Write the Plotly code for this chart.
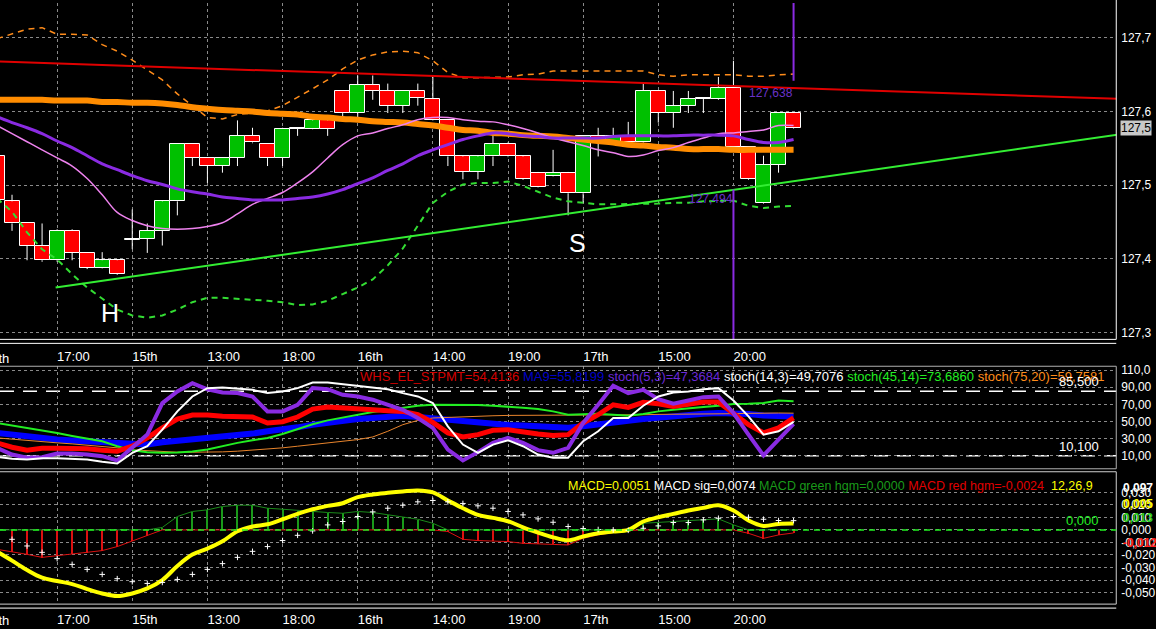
import plotly.graph_objects as go

# --- price candles (one per bar, bar index 0..53) ---
opens = [127.539, 127.478, 127.448, 127.418, 127.398, 127.438, 127.408, 127.388, 127.398, 127.426,
         127.427, 127.438, 127.478, 127.556, 127.537, 127.526, 127.537, 127.567, 127.556, 127.537,
         127.577, 127.577, 127.588, 127.628, 127.598, 127.636, 127.628, 127.608, 127.628, 127.617,
         127.589, 127.539, 127.518, 127.539, 127.556, 127.539, 127.517, 127.513, 127.517, 127.489,
         127.567, 127.558, 127.567, 127.558, 127.628, 127.598, 127.608, 127.617, 127.617, 127.632,
         127.552, 127.476, 127.528, 127.598]
highs = [127.542, 127.487, 127.448, 127.448, 127.440, 127.440, 127.409, 127.409, 127.399, 127.467,
         127.448, 127.479, 127.557, 127.557, 127.538, 127.538, 127.588, 127.578, 127.557, 127.578,
         127.578, 127.589, 127.589, 127.629, 127.649, 127.649, 127.638, 127.629, 127.638, 127.647,
         127.590, 127.540, 127.540, 127.567, 127.558, 127.540, 127.518, 127.548, 127.518, 127.568,
         127.578, 127.578, 127.586, 127.638, 127.629, 127.628, 127.628, 127.619, 127.647, 127.669,
         127.553, 127.540, 127.599, 127.599]
lows = [127.463, 127.438, 127.398, 127.396, 127.396, 127.398, 127.386, 127.387, 127.378, 127.413,
        127.408, 127.418, 127.459, 127.526, 127.503, 127.517, 127.526, 127.557, 127.526, 127.526,
        127.567, 127.576, 127.567, 127.589, 127.589, 127.616, 127.598, 127.598, 127.608, 127.588,
        127.526, 127.508, 127.508, 127.526, 127.538, 127.507, 127.497, 127.512, 127.459, 127.476,
        127.539, 127.557, 127.557, 127.557, 127.585, 127.578, 127.598, 127.598, 127.616, 127.551,
        127.507, 127.475, 127.517, 127.577]
closes = [127.480, 127.448, 127.418, 127.398, 127.438, 127.408, 127.388, 127.398, 127.379, 127.427,
          127.438, 127.478, 127.556, 127.537, 127.526, 127.537, 127.567, 127.558, 127.537, 127.577,
          127.577, 127.588, 127.577, 127.598, 127.636, 127.628, 127.608, 127.628, 127.619, 127.589,
          127.539, 127.518, 127.539, 127.556, 127.539, 127.508, 127.498, 127.517, 127.489, 127.567,
          127.562, 127.567, 127.558, 127.628, 127.598, 127.608, 127.617, 127.618, 127.632, 127.552,
          127.508, 127.528, 127.598, 127.578]

# --- overlays on the price panel ---
ma_orange = [127.616, 127.616, 127.616, 127.616, 127.615, 127.615, 127.615, 127.613, 127.613, 127.612,
             127.612, 127.611, 127.609, 127.606, 127.604, 127.602, 127.601, 127.600, 127.598, 127.597,
             127.596, 127.593, 127.592, 127.590, 127.589, 127.587, 127.586, 127.585, 127.583, 127.581,
             127.578, 127.575, 127.574, 127.571, 127.570, 127.568, 127.567, 127.566, 127.564, 127.562,
             127.560, 127.558, 127.555, 127.554, 127.552, 127.551, 127.549, 127.549, 127.549, 127.548,
             127.548, 127.548, 127.548, 127.548]
ma_purple = [127.593, 127.585, 127.578, 127.570, 127.560, 127.551, 127.540, 127.529, 127.521, 127.513,
             127.506, 127.501, 127.495, 127.491, 127.488, 127.484, 127.482, 127.480, 127.480, 127.480,
             127.482, 127.484, 127.488, 127.494, 127.502, 127.510, 127.520, 127.529, 127.540, 127.548,
             127.555, 127.562, 127.567, 127.571, 127.570, 127.567, 127.566, 127.564, 127.564, 127.564,
             127.564, 127.566, 127.567, 127.567, 127.567, 127.567, 127.568, 127.568, 127.568, 127.567,
             127.562, 127.558, 127.558, 127.562]
ma_pink = [127.581, 127.570, 127.559, 127.548, 127.537, 127.526, 127.509, 127.487, 127.463, 127.452,
           127.445, 127.441, 127.440, 127.441, 127.444, 127.449, 127.461, 127.474, 127.482, 127.490,
           127.503, 127.518, 127.537, 127.555, 127.567, 127.571, 127.577, 127.582, 127.589, 127.592,
           127.592, 127.589, 127.587, 127.586, 127.582, 127.577, 127.571, 127.564, 127.559, 127.554,
           127.548, 127.544, 127.539, 127.541, 127.547, 127.551, 127.558, 127.564, 127.570, 127.571,
           127.573, 127.575, 127.581, 127.581]
band_up = [127.699, 127.705, 127.712, 127.714, 127.705, 127.705, 127.704, 127.691, 127.682, 127.670,
           127.657, 127.643, 127.624, 127.608, 127.592, 127.590, 127.596, 127.598, 127.601, 127.608,
           127.619, 127.631, 127.643, 127.658, 127.670, 127.677, 127.681, 127.682, 127.680, 127.669,
           127.653, 127.646, 127.646, 127.646, 127.647, 127.650, 127.651, 127.655, 127.655, 127.655,
           127.655, 127.655, 127.655, 127.655, 127.650, 127.648, 127.650, 127.650, 127.650, 127.650,
           127.648, 127.648, 127.650, 127.651]
band_dn = [127.482, 127.464, 127.436, 127.413, 127.399, 127.379, 127.361, 127.346, 127.331, 127.323,
           127.320, 127.323, 127.331, 127.341, 127.347, 127.347, 127.346, 127.344, 127.343, 127.341,
           127.337, 127.338, 127.343, 127.352, 127.361, 127.372, 127.391, 127.414, 127.445, 127.476,
           127.491, 127.501, 127.503, 127.503, 127.505, 127.499, 127.491, 127.483, 127.478, 127.476,
           127.474, 127.474, 127.474, 127.474, 127.475, 127.476, 127.476, 127.478, 127.478, 127.479,
           127.472, 127.469, 127.471, 127.472]

# trendlines (bar index, price)
res_x = [0, 75]
res_y = [127.668, 127.617]
sup_x = [3.9, 75]
sup_y = [127.361, 127.570]

# high / low marks
mark_x = [53, 49]
mark_y = [127.638, 127.494]
mark_txt = ["127,638", "127,494"]

# --- oscillators ---
stpmt = [25.2, 20.1, 16.7, 19.0, 19.0, 19.0, 18.2, 16.7, 15.5, 21.3,
         31.0, 42.6, 53.0, 57.6, 57.6, 56.1, 56.1, 55.3, 48.4, 49.9,
         55.3, 64.6, 66.9, 66.2, 65.0, 63.8, 62.6, 61.9, 58.0, 49.1,
         36.8, 32.1, 34.8, 39.9, 40.6, 37.5, 35.6, 33.7, 34.8, 48.4,
         58.0, 69.6, 66.5, 72.4, 70.8, 67.7, 70.8, 72.8, 72.8, 60.0,
         46.4, 36.8, 42.6, 54.4]
ma9 = [36.8, 34.8, 32.1, 30.6, 29.0, 27.9, 26.7, 25.2, 24.0, 23.2,
       23.2, 25.9, 27.5, 29.0, 30.6, 32.1, 34.4, 36.0, 38.7, 40.6,
       43.3, 46.4, 49.1, 51.0, 53.0, 54.1, 55.3, 56.8, 55.3, 53.8,
       51.4, 49.5, 48.4, 47.2, 46.0, 45.3, 44.5, 43.3, 42.9, 44.5,
       47.2, 49.1, 51.0, 53.0, 54.9, 56.1, 57.6, 59.2, 60.0, 60.0,
       58.8, 57.2, 56.1, 55.8]
stoch5 = [19.3, 11.6, 7.8, 8.5, 12.8, 12.8, 11.6, 9.7, 4.7, 19.3,
          34.8, 71.6, 85.1, 94.7, 87.7, 83.9, 83.2, 79.3, 61.9, 61.9,
          69.6, 89.0, 87.8, 81.2, 79.3, 75.5, 69.6, 63.8, 54.2, 42.6,
          17.4, 4.7, 14.4, 25.2, 31.0, 25.2, 16.7, 13.6, 19.4, 48.4,
          69.6, 91.7, 83.2, 87.0, 76.2, 70.8, 74.6, 78.5, 79.3, 60.0,
          34.8, 10.5, 29.0, 47.4]
stoch14 = [8.9, 6.6, 5.8, 7.4, 7.4, 6.6, 5.8, 3.1, 1.2, 13.6,
           21.3, 40.6, 61.9, 79.3, 89.0, 89.8, 88.6, 87.0, 83.2, 85.1,
           89.0, 95.6, 95.6, 93.6, 91.7, 90.1, 87.8, 83.2, 79.3, 71.6,
           44.5, 23.2, 13.6, 23.2, 28.2, 21.3, 11.6, 7.8, 7.8, 27.1,
           38.7, 54.2, 54.2, 68.5, 79.3, 84.0, 85.1, 87.8, 89.0, 74.6,
           56.1, 34.8, 38.7, 49.7]
stoch45 = [48.4, 45.7, 42.6, 39.5, 36.8, 33.3, 30.6, 27.1, 21.3, 16.7,
           14.4, 13.6, 14.0, 15.1, 17.4, 21.3, 25.2, 28.2, 30.9, 35.6,
           41.4, 46.8, 51.4, 54.9, 58.0, 61.1, 63.4, 65.7, 68.4, 69.6,
           69.6, 69.6, 69.2, 68.4, 67.7, 66.2, 64.6, 61.9, 58.0, 58.8,
           59.2, 58.0, 56.8, 58.8, 61.9, 63.8, 65.7, 66.9, 68.4, 70.4,
           70.8, 71.6, 74.6, 73.7]
stoch75 = [31.0, 29.4, 27.9, 26.7, 25.2, 24.0, 22.5, 21.3, 19.4, 17.0,
           15.9, 14.7, 14.3, 14.3, 14.3, 14.7, 15.5, 16.7, 18.2, 19.4,
           21.3, 23.2, 25.2, 26.7, 29.0, 32.1, 38.7, 46.4, 51.4, 54.2,
           55.0, 55.3, 56.1, 56.8, 57.2, 57.2, 57.2, 57.6, 57.6, 57.6,
           58.0, 58.0, 58.0, 58.0, 58.4, 58.4, 58.4, 58.8, 58.8, 59.2,
           59.6, 60.0, 60.0, 59.8]
osc_levels = [85.5, 10.1]
osc_level_txt = ["85,500", "10,100"]

# --- MACD ---
macd = [-0.0173, -0.0245, -0.0320, -0.0381, -0.0408, -0.0432, -0.0472, -0.0507, -0.0528, -0.0507,
        -0.0467, -0.0400, -0.0288, -0.0197, -0.0149, -0.0091, -0.0011, 0.0027, 0.0045, 0.0085,
        0.0128, 0.0165, 0.0192, 0.0213, 0.0261, 0.0283, 0.0296, 0.0307, 0.0315, 0.0299,
        0.0235, 0.0173, 0.0120, 0.0096, 0.0069, 0.0021, -0.0021, -0.0059, -0.0083, -0.0053,
        -0.0027, -0.0013, 0.0000, 0.0067, 0.0101, 0.0128, 0.0155, 0.0176, 0.0197, 0.0155,
        0.0075, 0.0032, 0.0048, 0.0051]
signal = [-0.0027, -0.0075, -0.0128, -0.0179, -0.0229, -0.0275, -0.0315, -0.0355, -0.0389, -0.0413,
          -0.0427, -0.0419, -0.0395, -0.0355, -0.0315, -0.0269, -0.0219, -0.0171, -0.0133, -0.0085,
          -0.0043, -0.0008, 0.0040, 0.0067, 0.0107, 0.0144, 0.0173, 0.0197, 0.0224, 0.0235,
          0.0224, 0.0211, 0.0192, 0.0173, 0.0147, 0.0120, 0.0088, 0.0061, 0.0027, 0.0011,
          0.0003, 0.0000, -0.0003, 0.0013, 0.0032, 0.0059, 0.0059, 0.0080, 0.0093, 0.0107,
          0.0101, 0.0085, 0.0075, 0.0074]
hist = [-0.0155, -0.0173, -0.0195, -0.0219, -0.0205, -0.0192, -0.0179, -0.0165, -0.0133, -0.0088,
        -0.0043, 0.0020, 0.0107, 0.0147, 0.0160, 0.0187, 0.0197, 0.0197, 0.0173, 0.0165,
        0.0155, 0.0147, 0.0139, 0.0133, 0.0147, 0.0139, 0.0120, 0.0107, 0.0085, 0.0053,
        -0.0013, -0.0075, -0.0085, -0.0088, -0.0093, -0.0107, -0.0112, -0.0112, -0.0120, -0.0067,
        -0.0040, -0.0021, -0.0005, 0.0053, 0.0059, 0.0067, 0.0072, 0.0080, 0.0088, 0.0040,
        -0.0027, -0.0067, -0.0040, -0.0024]

# time axis
tick_pos = [4, 9, 14, 19, 24, 29, 34, 39, 44, 49]
tick_txt = ["17:00", "15th", "13:00", "18:00", "16th", "14:00", "19:00", "17th", "15:00", "20:00"]

price_ticks = [127.3, 127.4, 127.5, 127.6, 127.7]
price_txt = ["127,3", "127,4", "127,5", "127,6", "127,7"]
osc_ticks = [10, 30, 50, 70, 90, 110]
osc_txt = ["10,00", "30,00", "50,00", "70,00", "90,00", "110,0"]
macd_ticks = [0.03, 0.02, 0.01, 0.0, -0.01, -0.02, -0.03, -0.04, -0.05]
macd_txt = ["0,030", "0,020", "0,010", "0,000", "-0,010", "-0,020", "-0,030", "-0,040", "-0,050"]

FONT = "Liberation Sans, Arial, sans-serif"
XR = 0.9715  # right edge of plotting area (paper)

idx = list(range(len(closes)))
up = [i for i in idx if closes[i] >= opens[i]]
dn = [i for i in idx if closes[i] < opens[i]]

fig = go.Figure()

# candle wicks (outside the bodies)
wx, wy = [], []
for i in idx:
    top = max(opens[i], closes[i])
    bot = min(opens[i], closes[i])
    wx += [i, i, None, i, i, None]
    wy += [highs[i], top, None, bot, lows[i], None]
fig.add_trace(go.Scatter(x=wx, y=wy, mode="lines", line=dict(color="white", width=1)))

for sel, col in [(up, "#00c000"), (dn, "#ff0000")]:
    fig.add_trace(go.Bar(
        x=sel,
        base=[min(opens[i], closes[i]) for i in sel],
        y=[max(abs(closes[i] - opens[i]), 0.0004) for i in sel],
        width=1.0,
        marker=dict(color=col, line=dict(color="white", width=1)),
    ))

fig.add_trace(go.Scatter(x=idx, y=band_up, mode="lines", line=dict(color="#ff8c1a", width=1.5, dash="6px,5px")))
fig.add_trace(go.Scatter(x=idx, y=band_dn, mode="lines", line=dict(color="#33dd33", width=2, dash="6px,5px")))
fig.add_trace(go.Scatter(x=res_x, y=res_y, mode="lines", line=dict(color="#e00000", width=2)))
fig.add_trace(go.Scatter(x=sup_x, y=sup_y, mode="lines", line=dict(color="#33ee33", width=2)))
fig.add_trace(go.Scatter(x=idx, y=ma_orange, mode="lines", line=dict(color="#ff8c00", width=6, shape="spline")))
fig.add_trace(go.Scatter(x=idx, y=ma_pink, mode="lines", line=dict(color="#ee82ee", width=1.5, shape="spline")))
fig.add_trace(go.Scatter(x=idx, y=ma_purple, mode="lines", line=dict(color="#8a2be2", width=3, shape="spline")))

# vertical high / low marker lines
fig.add_trace(go.Scatter(x=[mark_x[0], mark_x[0]], y=[mark_y[0] + 0.004, 127.8], mode="lines",
                         line=dict(color="#8a2be2", width=2)))
fig.add_trace(go.Scatter(x=[mark_x[1], mark_x[1]], y=[mark_y[1], 127.2], mode="lines",
                         line=dict(color="#8a2be2", width=2)))

# oscillator panel
for ser, col, w in [(ma9, "#0000ff", 6), (stoch75, "#e8842c", 1), (stoch45, "#22ee22", 2),
                    (stpmt, "#ff0000", 5), (stoch5, "#8a2be2", 4), (stoch14, "white", 2)]:
    fig.add_trace(go.Scatter(x=idx, y=ser, mode="lines", xaxis="x2", yaxis="y2",
                             line=dict(color=col, width=w)))

# MACD panel
green_h = [h if h > 0 else 0 for h in hist]
red_h = [h if h < 0 else 0 for h in hist]
fig.add_trace(go.Bar(x=idx, y=green_h, width=0.07, xaxis="x3", yaxis="y3",
                     marker=dict(color="#1a9a1a", line=dict(width=0))))
fig.add_trace(go.Bar(x=idx, y=red_h, width=0.07, xaxis="x3", yaxis="y3",
                     marker=dict(color="#dd1111", line=dict(width=0))))
fig.add_trace(go.Scatter(x=idx, y=green_h, mode="lines", xaxis="x3", yaxis="y3",
                         line=dict(color="#1a8a1a", width=1)))
fig.add_trace(go.Scatter(x=idx, y=red_h, mode="lines", xaxis="x3", yaxis="y3",
                         line=dict(color="#dd1111", width=1)))
fig.add_trace(go.Scatter(x=idx, y=macd, mode="lines", xaxis="x3", yaxis="y3",
                         line=dict(color="#ffff00", width=4, shape="spline")))
fig.add_trace(go.Scatter(x=idx, y=signal, mode="markers", xaxis="x3", yaxis="y3",
                         marker=dict(symbol="cross-thin", size=4, line=dict(color="white", width=1))))

grid = dict(showgrid=True, gridcolor="#8a8a8a", griddash="dot", gridwidth=1, zeroline=False)
xcommon = dict(domain=[0, XR], range=[0.2, 74.47], tickvals=tick_pos, ticktext=tick_txt,
               ticks="", tickfont=dict(color="white", size=13, family=FONT),
               ticklabelposition="outside right", **grid)
ycommon = dict(side="right", ticks="", tickfont=dict(color="white", size=12, family=FONT), **grid)

ann = []
# partly hidden first date label
for yy in [1 - 357 / 629, 1 - 620 / 629]:
    ann.append(dict(xref="paper", yref="paper", x=-0.0156, y=yy, text="14th", showarrow=False,
                    xanchor="left", yanchor="middle", font=dict(color="white", size=13, family=FONT)))
ann.append(dict(xref="x", yref="y", x=7.5, y=127.327, text="H", showarrow=False,
                font=dict(color="white", size=25, family=FONT)))
ann.append(dict(xref="x", yref="y", x=38.6, y=127.422, text="S", showarrow=False,
                font=dict(color="white", size=25, family=FONT)))
for mx, my, mt in zip(mark_x, mark_y, mark_txt):
    ann.append(dict(xref="x", yref="y", x=mx + 0.1, y=my, text=mt, showarrow=False,
                    xanchor="right", yanchor="top", font=dict(color="#6a32c8", size=12, family=FONT)))
ann.append(dict(xref="paper", yref="y", x=XR + 0.003, y=closes[-1], text="127,5", showarrow=False,
                xanchor="left", yanchor="middle", bgcolor="#c8c8c8", borderpad=0,
                font=dict(color="black", size=12, family=FONT)))

osc_legend = ("<span style='color:#d40000'>WHS_EL_STPMT=54,4136</span> "
              "<span style='color:#0000c8'>MA9=55,8199</span> "
              "<span style='color:#6a28d8'>stoch(5,3)=47,3684</span> "
              "<span style='color:#ffffff'>stoch(14,3)=49,7076</span> "
              "<span style='color:#22ee22'>stoch(45,14)=73,6860</span> "
              "<span style='color:#ff8c1a'>stoch(75,20)=59,7581</span>")
ann.append(dict(xref="paper", yref="paper", x=1114 / 1156, y=1 - 375 / 629, text=osc_legend,
                showarrow=False, xanchor="right", yanchor="middle", font=dict(size=13, family=FONT)))
for lv, lt in zip(osc_levels, osc_level_txt):
    ann.append(dict(xref="paper", yref="y2", x=1108 / 1156, y=lv, text=lt, showarrow=False,
                    xanchor="right", yanchor="bottom", font=dict(color="white", size=13, family=FONT)))

macd_legend = ("<span style='color:#ffff00'>MACD=0,0051</span> "
               "<span style='color:#ffffff'>MACD sig=0,0074</span> "
               "<span style='color:#1a9a1a'>MACD green hgm=0,0000</span> "
               "<span style='color:#e00000'>MACD red hgm=-0,0024</span>  "
               "<span style='color:#ffff00'>12,26,9</span>")
ann.append(dict(xref="paper", yref="paper", x=1102 / 1156, y=1 - 485 / 629, text=macd_legend,
                showarrow=False, xanchor="right", yanchor="middle", font=dict(size=12.5, family=FONT)))
ann.append(dict(xref="paper", yref="y3", x=1108 / 1156, y=0, text="0,000", showarrow=False,
                xanchor="right", yanchor="bottom", font=dict(color="#22ee22", size=13, family=FONT)))
# overlapping value labels on the MACD scale
for txt, yv, col in [("0,097", 0.0335, "white"), ("0,005", 0.0205, "#ffff00"),
                     ("0,013", 0.0098, "#22cc22"), ("-0,012", -0.0101, "#ff2020")]:
    ann.append(dict(xref="paper", yref="y3", x=XR + 0.004, y=yv, text="<b>" + txt + "</b>",
                    showarrow=False, xanchor="left", yanchor="middle",
                    font=dict(color=col, size=12, family=FONT)))

shapes = []
for y0, y1, col in [(1 - 338 / 629, 1.01, "white"), (1 - 468 / 629, 1 - 365 / 629, "#b0b0b0"),
                    (1 - 604 / 629, 1 - 471 / 629, "#d0d0d0")]:
    shapes.append(dict(type="rect", xref="paper", yref="paper", x0=-0.01, x1=XR, y0=y0, y1=y1,
                       line=dict(color=col, width=1), layer="above"))
for yy in [1 - 342 / 629, 1 - 608 / 629]:
    shapes.append(dict(type="line", xref="paper", yref="paper", x0=0, x1=XR, y0=yy, y1=yy,
                       line=dict(color="white", width=1)))
for lv in osc_levels:
    shapes.append(dict(type="line", xref="paper", yref="y2", x0=0, x1=XR, y0=lv, y1=lv, layer="between",
                       line=dict(color="white", width=1.5, dash="14px,9px")))
shapes.append(dict(type="line", xref="paper", yref="y3", x0=0, x1=XR, y0=0, y1=0, layer="above",
                   line=dict(color="#22ee22", width=1.5, dash="6px,5px")))

fig.update_layout(
    width=1156, height=629,
    margin=dict(l=0, r=0, t=0, b=0),
    paper_bgcolor="black", plot_bgcolor="black",
    showlegend=False, barmode="overlay", bargap=0,
    xaxis=dict(anchor="y", ticklabelstandoff=8, **xcommon),
    xaxis2=dict(anchor="y2", matches="x", showticklabels=False, **xcommon),
    xaxis3=dict(anchor="y3", matches="x", ticklabelstandoff=6, **xcommon),
    yaxis=dict(domain=[1 - 338 / 629, 1], range=[127.2905, 127.7475], anchor="x",
               tickvals=price_ticks, ticktext=price_txt, ticklabelstandoff=4, **ycommon),
    yaxis2=dict(domain=[1 - 468 / 629, 1 - 365 / 629], range=[-5.0, 114.5], anchor="x2",
                tickvals=osc_ticks, ticktext=osc_txt, ticklabelstandoff=4, **ycommon),
    yaxis3=dict(domain=[1 - 604 / 629, 1 - 471 / 629], range=[-0.0592, 0.0464], anchor="x3",
                tickvals=macd_ticks, ticktext=macd_txt, ticklabelstandoff=4, **ycommon),
    annotations=ann,
    shapes=shapes,
)

# the page's default body margin would shift the whole chart
fig.write_html("out.html", config={"displayModeBar": False},
               post_script="document.body.style.margin='0';document.body.style.background='black';")
